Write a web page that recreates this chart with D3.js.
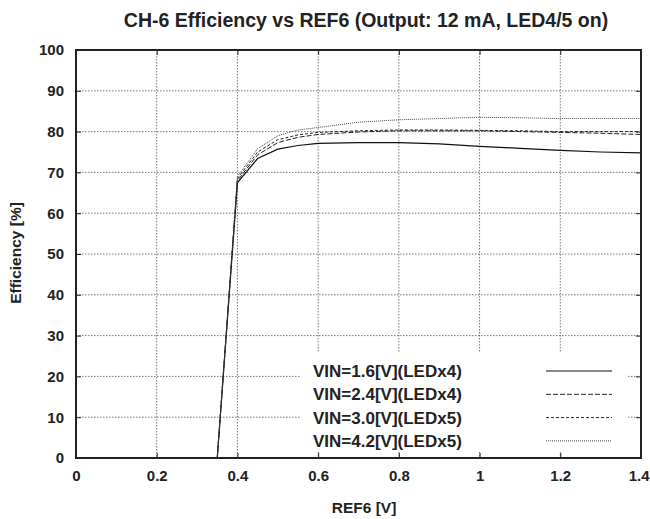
<!DOCTYPE html>
<html><head><meta charset="utf-8">
<script src="https://cdn.jsdelivr.net/npm/d3@7"></script>
<style>body{margin:0;background:#fff}svg{display:block}text{font-family:"Liberation Sans",Arial,sans-serif;font-weight:bold;fill:#222}</style>
</head><body><svg id="c" width="650" height="519"></svg>
<script>
const xVals = [0.35, 0.40, 0.45, 0.50, 0.55, 0.60, 0.70, 0.80, 0.90, 1.00, 1.10, 1.20, 1.30, 1.40];
const vin16 = [0, 67.5, 73.4, 75.7, 76.6, 77.1, 77.3, 77.3, 77.0, 76.4, 75.9, 75.4, 75.0, 74.8];
const vin24 = [0, 68.0, 74.3, 77.3, 78.6, 79.3, 79.9, 80.2, 80.2, 80.2, 80.0, 79.8, 79.6, 79.3];
const vin30 = [0, 68.5, 75.0, 78.0, 79.2, 79.8, 80.2, 80.4, 80.4, 80.3, 80.2, 80.0, 80.0, 80.0];
const vin42 = [0, 69.0, 75.8, 79.0, 80.4, 81.0, 82.3, 82.9, 83.2, 83.5, 83.4, 83.2, 83.2, 83.2];
const seriesNames = ["VIN=1.6[V](LEDx4)", "VIN=2.4[V](LEDx4)", "VIN=3.0[V](LEDx5)", "VIN=4.2[V](LEDx5)"];
const xTicks = [0, 0.2, 0.4, 0.6, 0.8, 1, 1.2, 1.4];
const yTicks = [0, 10, 20, 30, 40, 50, 60, 70, 80, 90, 100];

const svg = d3.select("#c");
const L = 76, R = 641, T = 50, B = 458;
const x = d3.scaleLinear().domain([0, 1.4]).range([L, R]);
const y = d3.scaleLinear().domain([0, 100]).range([B, T]);

svg.append("text").attr("x", 366).attr("y", 27).attr("text-anchor", "middle")
  .style("font-size", "19.5px").text("CH-6 Efficiency vs REF6 (Output: 12 mA, LED4/5 on)");

// gridlines
const g = svg.append("g");
g.selectAll(".gx").data(xTicks.slice(1, -1)).join("line")
  .attr("x1", d => x(d)).attr("x2", d => x(d)).attr("y1", T).attr("y2", B)
  .attr("stroke", "#555").attr("stroke-width", 0.8).attr("stroke-dasharray", "1.5,1.5");
g.selectAll(".gy").data(yTicks.slice(1, -1)).join("line")
  .attr("y1", d => y(d)).attr("y2", d => y(d)).attr("x1", L).attr("x2", R)
  .attr("stroke", "#555").attr("stroke-width", 0.8).attr("stroke-dasharray", "1.5,1.5");

// curves
const series = [
  {v: vin16, dash: null, w: 1.2, c: "#111"},
  {v: vin24, dash: "5,2", w: 1, c: "#222"},
  {v: vin30, dash: "3,2", w: 1, c: "#222"},
  {v: vin42, dash: "1,1", w: 1, c: "#444"}
];
const line = d3.line().x(d => x(d[0])).y(d => y(d[1]));
series.forEach(s => {
  svg.append("path").datum(xVals.map((xv, i) => [xv, s.v[i]]))
    .attr("d", line).attr("fill", "none").attr("stroke", s.c)
    .attr("stroke-width", s.w).attr("stroke-dasharray", s.dash);
});

// legend
svg.append("rect").attr("x", 300).attr("y", 353).attr("width", 328).attr("height", 98).attr("fill", "#fff");
const lg = svg.append("g");
seriesNames.forEach((n, i) => {
  const yy = 371 + i * 23.3;
  lg.append("text").attr("x", 313).attr("y", yy).attr("dy", "0.36em")
    .style("font-size", "17px").text(n);
  lg.append("line").attr("x1", 546).attr("x2", 612).attr("y1", yy).attr("y2", yy)
    .attr("stroke", series[i].c).attr("stroke-width", series[i].w).attr("stroke-dasharray", series[i].dash);
});

// axes
svg.append("g").attr("transform", `translate(0,${B})`)
  .call(d3.axisBottom(x).tickValues(xTicks).tickFormat(d3.format("")).tickSizeInner(-5).tickSizeOuter(0).tickPadding(12));
svg.append("g").attr("transform", `translate(${L},0)`)
  .call(d3.axisLeft(y).tickValues(yTicks).tickSizeInner(-5).tickSizeOuter(0).tickPadding(12));
svg.append("g").attr("transform", `translate(0,${T})`)
  .call(d3.axisTop(x).tickValues(xTicks).tickFormat("").tickSizeInner(-5).tickSizeOuter(0));
svg.append("g").attr("transform", `translate(${R},0)`)
  .call(d3.axisRight(y).tickValues(yTicks).tickFormat("").tickSizeInner(-5).tickSizeOuter(0));
svg.selectAll(".domain").remove();
svg.selectAll(".tick line").attr("stroke", "#222");
svg.selectAll(".tick text").style("font-size", "15px").style("font-family", "Liberation Sans, Arial, sans-serif").style("font-weight", "bold").attr("fill", "#222");
svg.selectAll(".tick text").filter(d => d === 1.4).attr("text-anchor", "end").attr("dx", "8px");
svg.append("rect").attr("x", L).attr("y", T).attr("width", R - L).attr("height", B - T)
  .attr("fill", "none").attr("stroke", "#222").attr("stroke-width", 2);

svg.append("text").attr("x", 364).attr("y", 513).attr("text-anchor", "middle")
  .style("font-size", "15.5px").text("REF6 [V]");
svg.append("text").attr("transform", "translate(21,253) rotate(-90)").attr("text-anchor", "middle")
  .style("font-size", "15.5px").text("Efficiency [%]");
</script></body></html>
